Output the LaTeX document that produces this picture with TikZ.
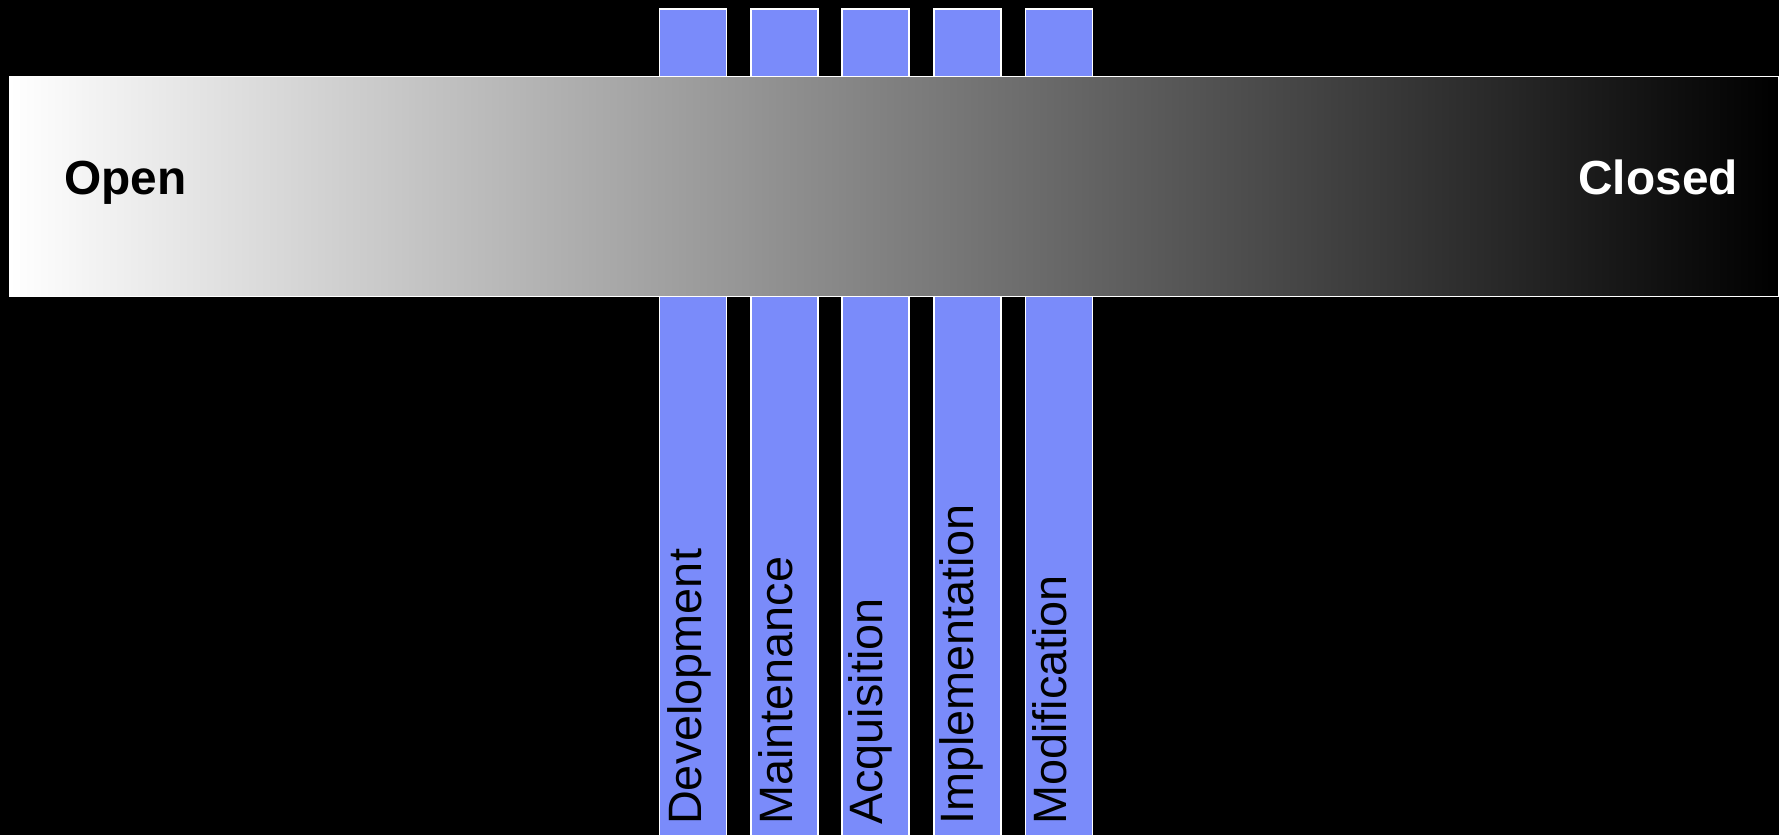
\documentclass[tikz,border=0pt]{standalone}
\usepackage{fontspec}
\setmainfont{Liberation Sans}
\definecolor{barblue}{RGB}{122,139,250}
\begin{document}
\begin{tikzpicture}[x=1bp,y=-1bp,
  phase/.style={draw=white, line width=1.5bp, fill=barblue, anchor=north west,
    minimum width=67bp, minimum height=840bp, inner sep=0pt},
  phaselabel/.style={rotate=90, anchor=base west, font=\fontsize{47}{50}\selectfont,
    text=black, inner sep=0pt},
  endlabel/.style={font=\fontsize{48}{52}\selectfont\bfseries, inner sep=0pt},
  scalebar/.style={draw=white, line width=1.5bp, left color=white, right color=black,
    anchor=north west, minimum width=1769bp, minimum height=220bp, inner sep=0pt}]
\fill[black] (0,0) rectangle (1779,835);
\useasboundingbox (0,0) rectangle (1779,835);
% vertical phase bars
\node[phase] (dev) at (658.5,8) {};
\node[phase] (mai) at (750,8) {};
\node[phase] (acq) at (841,8) {};
\node[phase] (imp) at (933,8) {};
\node[phase] (mod) at (1024.5,8) {};
% open-closed scale
\node[scalebar] (scale) at (8.5,75.5) {};
\node[endlabel, anchor=base west, text=black] (open) at (64,194) {Open};
\node[endlabel, anchor=base east, text=white] (closed) at (1738,194) {Closed};
% labels
\node[phaselabel] (devl) at (701,825) {Development};
\node[phaselabel] (mail) at (792,825) {Maintenance};
\node[phaselabel] (acql) at (882,825) {Acquisition};
\node[phaselabel] (impl) at (973,825) {Implementation};
\node[phaselabel] (modl) at (1066,825) {Modification};
\end{tikzpicture}
\end{document}
